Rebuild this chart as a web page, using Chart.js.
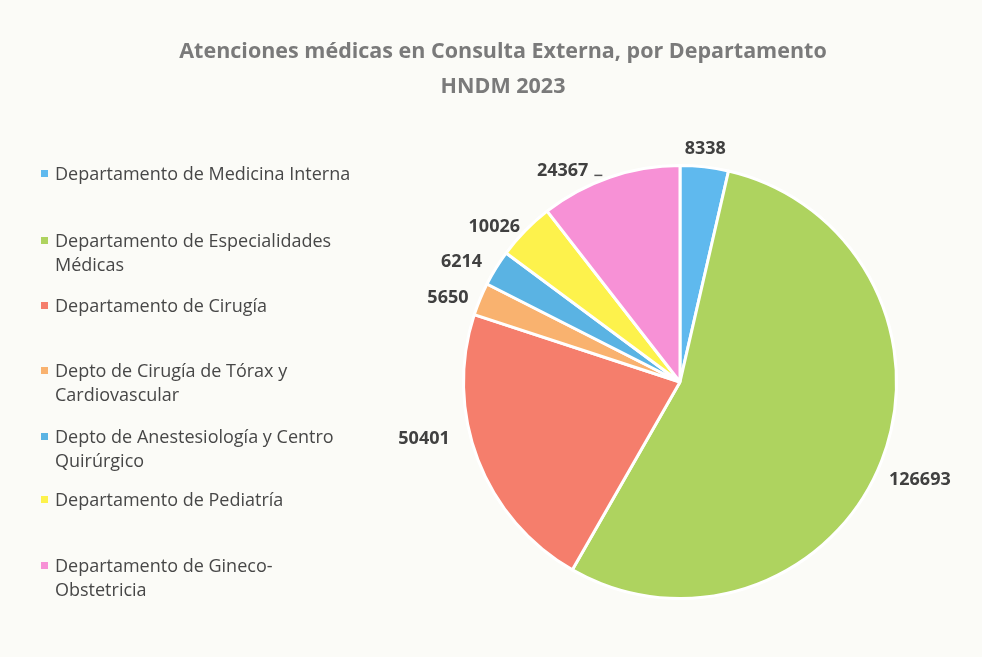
<!DOCTYPE html>
<html>
<head>
<meta charset="utf-8">
<script src="https://cdn.jsdelivr.net/npm/chart.js@4"></script>
<style>
  html, body { margin: 0; padding: 0; background: #fbfbf7; }
  #wrap { position: relative; width: 982px; height: 657px; }
  #title {
    position: absolute; left: 503px; top: 32px; transform: translateX(-50%);
    white-space: nowrap; text-align: center;
    font-family: "Open Sans", sans-serif; font-weight: bold; font-size: 21.5px;
    line-height: 35px; color: #7a7a7a;
  }
  #legend { position: absolute; left: 0; top: 0; }
  .li {
    position: absolute; left: 55px; white-space: nowrap;
    font-family: "Open Sans", sans-serif; font-size: 18px; line-height: 24px; color: #474747;
  }
  .li i { position: absolute; left: -14px; top: 9px; width: 7px; height: 7px; }
</style>
</head>
<body>
<div id="wrap">
  <canvas id="c" width="982" height="657"></canvas>
  <div id="title">Atenciones médicas en Consulta Externa, por Departamento<br>HNDM 2023</div>
  <div id="legend"></div>
</div>
<script>
// data
const categories = [
  ["Departamento de Medicina Interna"],
  ["Departamento de Especialidades", "Médicas"],
  ["Departamento de Cirugía"],
  ["Depto de Cirugía de Tórax y", "Cardiovascular"],
  ["Depto de Anestesiología y Centro", "Quirúrgico"],
  ["Departamento de Pediatría"],
  ["Departamento de Gineco-", "Obstetricia"]
];
const atenciones = [8338, 126693, 50401, 5650, 6214, 10026, 24367];

const colors = ["#5fb9ee", "#aed35f", "#f57e6c", "#f9b26f", "#5ab3e3", "#fdf24c", "#f791d6"];

// legend item tops and label nudges (layout only)
const legendTops = [161, 228, 293, 358, 424, 487, 553];
const labelNudge = [[-1,-3],[2,4],[-22,-34],[-5,9],[-10,8],[-9,17],[-40,13]];

const outLabels = {
  id: "outLabels",
  afterDatasetsDraw(chart) {
    const ctx = chart.ctx;
    const meta = chart.getDatasetMeta(0);
    ctx.save();
    ctx.font = "bold 18px 'Open Sans'";
    ctx.fillStyle = "#404040";
    ctx.textAlign = "center";
    ctx.textBaseline = "middle";
    meta.data.forEach((arc, i) => {
      const p = arc.getProps(["x", "y", "startAngle", "endAngle", "outerRadius"], true);
      const mid = (p.startAngle + p.endAngle) / 2;
      const ux = Math.cos(mid), uy = Math.sin(mid);
      const txt = String(chart.data.datasets[0].data[i]);
      const w = ctx.measureText(txt).width, h = 12;
      const r = p.outerRadius + 8;
      const sh = w / 2 * Math.abs(ux) + h / 2 * Math.abs(uy);
      const x = p.x + (r + sh) * ux + labelNudge[i][0];
      const y = p.y + (r + sh) * uy + labelNudge[i][1];
      ctx.fillText(txt, x, y + 1);
      if (i === 6) {
        ctx.strokeStyle = "#555";
        ctx.lineWidth = 1.5;
        ctx.beginPath();
        ctx.moveTo(x + w / 2 + 6, y + 6);
        ctx.lineTo(x + w / 2 + 14, y + 6);
        ctx.stroke();
      }
    });
    ctx.restore();
  }
};

const htmlLegend = {
  id: "htmlLegend",
  afterUpdate(chart) {
    const box = document.getElementById("legend");
    box.innerHTML = "";
    const items = chart.options.plugins.legend.labels.generateLabels(chart);
    items.forEach((it, i) => {
      const d = document.createElement("div");
      d.className = "li";
      d.style.top = legendTops[i] + "px";
      const txt = Array.isArray(it.text) ? it.text.join("<br>") : it.text;
      d.innerHTML = `<i style="background:${it.fillStyle}"></i>${txt}`;
      box.appendChild(d);
    });
  }
};

new Chart(document.getElementById("c"), {
  type: "pie",
  data: {
    labels: categories,
    datasets: [{
      data: atenciones,
      backgroundColor: colors,
      borderColor: "#ffffff",
      borderWidth: 3
    }]
  },
  options: {
    responsive: false,
    animation: false,
    layout: {
      padding: { left: 462, right: 84, top: 164, bottom: 57 }
    },
    plugins: {
      legend: { display: false },
      tooltip: { enabled: false },
      title: { display: false }
    }
  },
  plugins: [outLabels, htmlLegend]
});
</script>
</body>
</html>
